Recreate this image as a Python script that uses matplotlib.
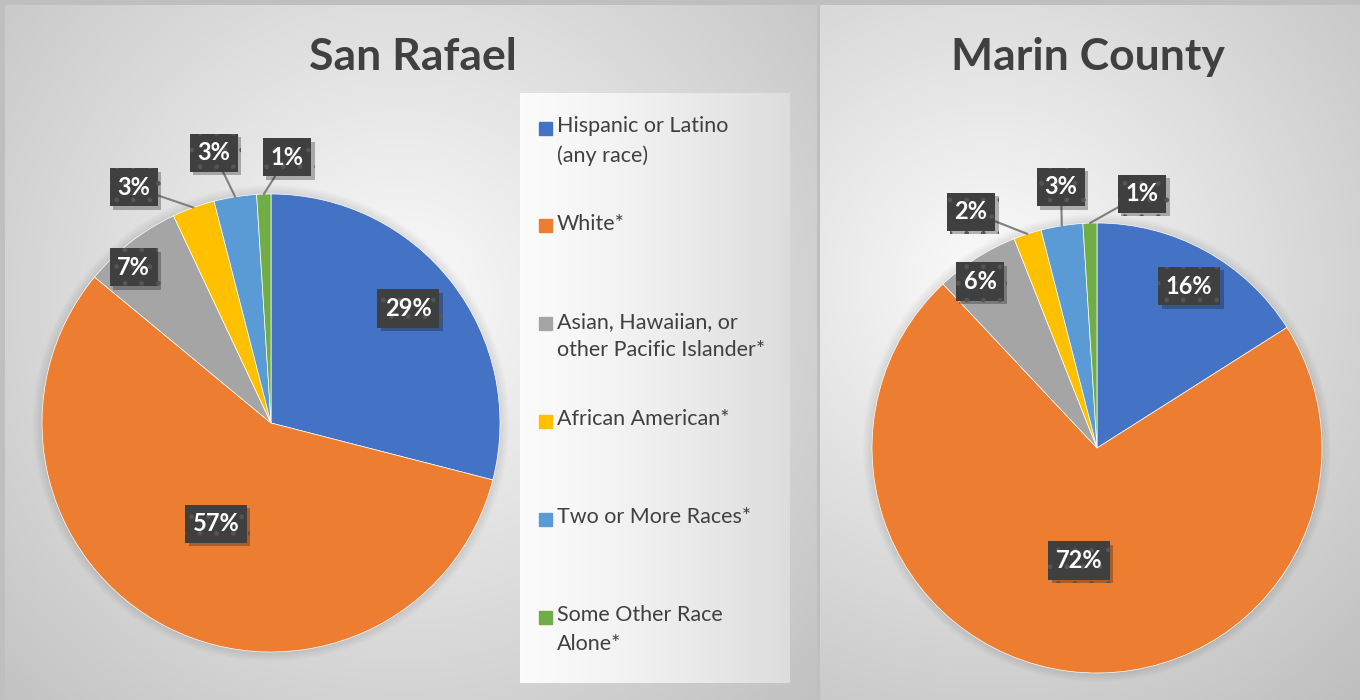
import numpy as np
import matplotlib
matplotlib.use('Agg')
import matplotlib.pyplot as plt
import matplotlib.patheffects as pe
from matplotlib.patches import Circle

plt.rcParams['font.family'] = ['Lato', 'DejaVu Sans']
plt.rcParams['hatch.linewidth'] = 1.0

# data
categories = ['Hispanic or Latino\n(any race)', 'White*',
              'Asian, Hawaiian, or\nother Pacific Islander*',
              'African American*', 'Two or More Races*',
              'Some Other Race\nAlone*']
san_rafael = [29, 57, 7, 3, 3, 1]
marin_county = [16, 72, 6, 2, 3, 1]
colors = ['#4472C4', '#ED7D31', '#A5A5A5', '#FFC000', '#5B9BD5', '#70AD47']

# label layout, in pie radius units from the centre
sr_label_pos = [(0.60, 0.50), (-0.24, -0.44), (-0.60, 0.68),
                (-0.60, 1.03), (-0.25, 1.18), (0.07, 1.16)]
mc_label_pos = [(0.41, 0.72), (-0.08, -0.50), (-0.52, 0.74),
                (-0.56, 1.05), (-0.16, 1.16), (0.20, 1.13)]
leader_idx = [3, 4, 5]

W, H = 1360, 700
fig = plt.figure(figsize=(W / 100, H / 100), dpi=100)

# background panels with radial gradient
bg = fig.add_axes([0, 0, 1, 1])
bg.set_xlim(0, W)
bg.set_ylim(H, 0)
bg.axis('off')
yy, xx = np.mgrid[0:H, 0:W]
img = np.full((H, W), 0.75)

def radial(cx, cy, dmax, lo=0.78, hi=0.985):
    d = np.hypot(xx - cx, yy - cy) / dmax
    return np.clip(hi - (hi - lo) * d, 0.70, 1.0)

left = (xx >= 5) & (xx < 817) & (yy >= 5)
right = (xx >= 820) & (yy >= 5)
img[left] = radial(400, 300, 520)[left]
img[right] = radial(990, 280, 480)[right]
# legend box
lg = (xx >= 520) & (xx < 790) & (yy >= 93) & (yy < 683)
img[lg] = (0.985 - 0.12 * ((xx - 520) / 270.0) ** 1.3)[lg]
bg.imshow(np.dstack([img] * 3), extent=(0, W, H, 0), aspect='auto',
          interpolation='bilinear')

# legend entries
for i, (cat, col) in enumerate(zip(categories, colors)):
    y = 128 + i * 97.8
    bg.add_patch(plt.Rectangle((539, y - 6.5), 13, 13, color=col))
    bg.text(557, y - 12, cat, fontsize=15.5, color='#404040', va='top',
            ha='left', linespacing=1.55)

box = dict(boxstyle='square,pad=0.32', facecolor='#3f3f3f',
           edgecolor='#555555', linewidth=0, hatch='.')
shadow = [pe.SimplePatchShadow(offset=(2.5, -2.5), alpha=0.3), pe.Normal()]


def pie_axes(cx, cy, r, lim=1.6):
    side = 2 * lim * r
    ax = fig.add_axes([(cx - side / 2) / W, 1 - (cy + side / 2) / H,
                       side / W, side / H])
    return ax, lim


def draw_pie(cx, cy, r, values, label_pos, title, tx):
    ax, lim = pie_axes(cx, cy, r)
    for rr in np.linspace(1.04, 1.004, 8):
        ax.add_patch(Circle((0, 0), rr, color='black', alpha=0.012,
                            zorder=0, lw=0))
    wedges, _ = ax.pie(values, colors=colors, startangle=90,
                       counterclock=False, radius=1,
                       wedgeprops=dict(edgecolor='white', linewidth=0.5))
    ax.set_xlim(-lim, lim)
    ax.set_ylim(-lim, lim)
    ax.set_aspect('equal')
    ax.axis('off')
    for i, (w, v) in enumerate(zip(wedges, values)):
        px, py = label_pos[i]
        s = f'{v}%'
        if i in leader_idx:
            th = np.deg2rad((w.theta1 + w.theta2) / 2)
            t = ax.annotate(s, xy=(np.cos(th), np.sin(th)), xytext=(px, py),
                            ha='center', va='center', fontsize=17,
                            weight='bold', color='white', bbox=box, zorder=5,
                            arrowprops=dict(arrowstyle='-', color='#7f7f7f',
                                            lw=1.5, shrinkA=0, shrinkB=0))
        else:
            t = ax.text(px, py, s, ha='center', va='center', fontsize=17,
                        weight='bold', color='white', bbox=box, zorder=5)
        t.get_bbox_patch().set_path_effects(shadow)
    fig.text(tx / W, 1 - 57 / H, title, ha='center', va='center',
             fontsize=32, weight='bold', color='#404040')


draw_pie(271, 423, 229, san_rafael, sr_label_pos, 'San Rafael', 413)
draw_pie(1097, 448, 225, marin_county, mc_label_pos, 'Marin County', 1088)

fig.savefig('out.png', dpi=100)
